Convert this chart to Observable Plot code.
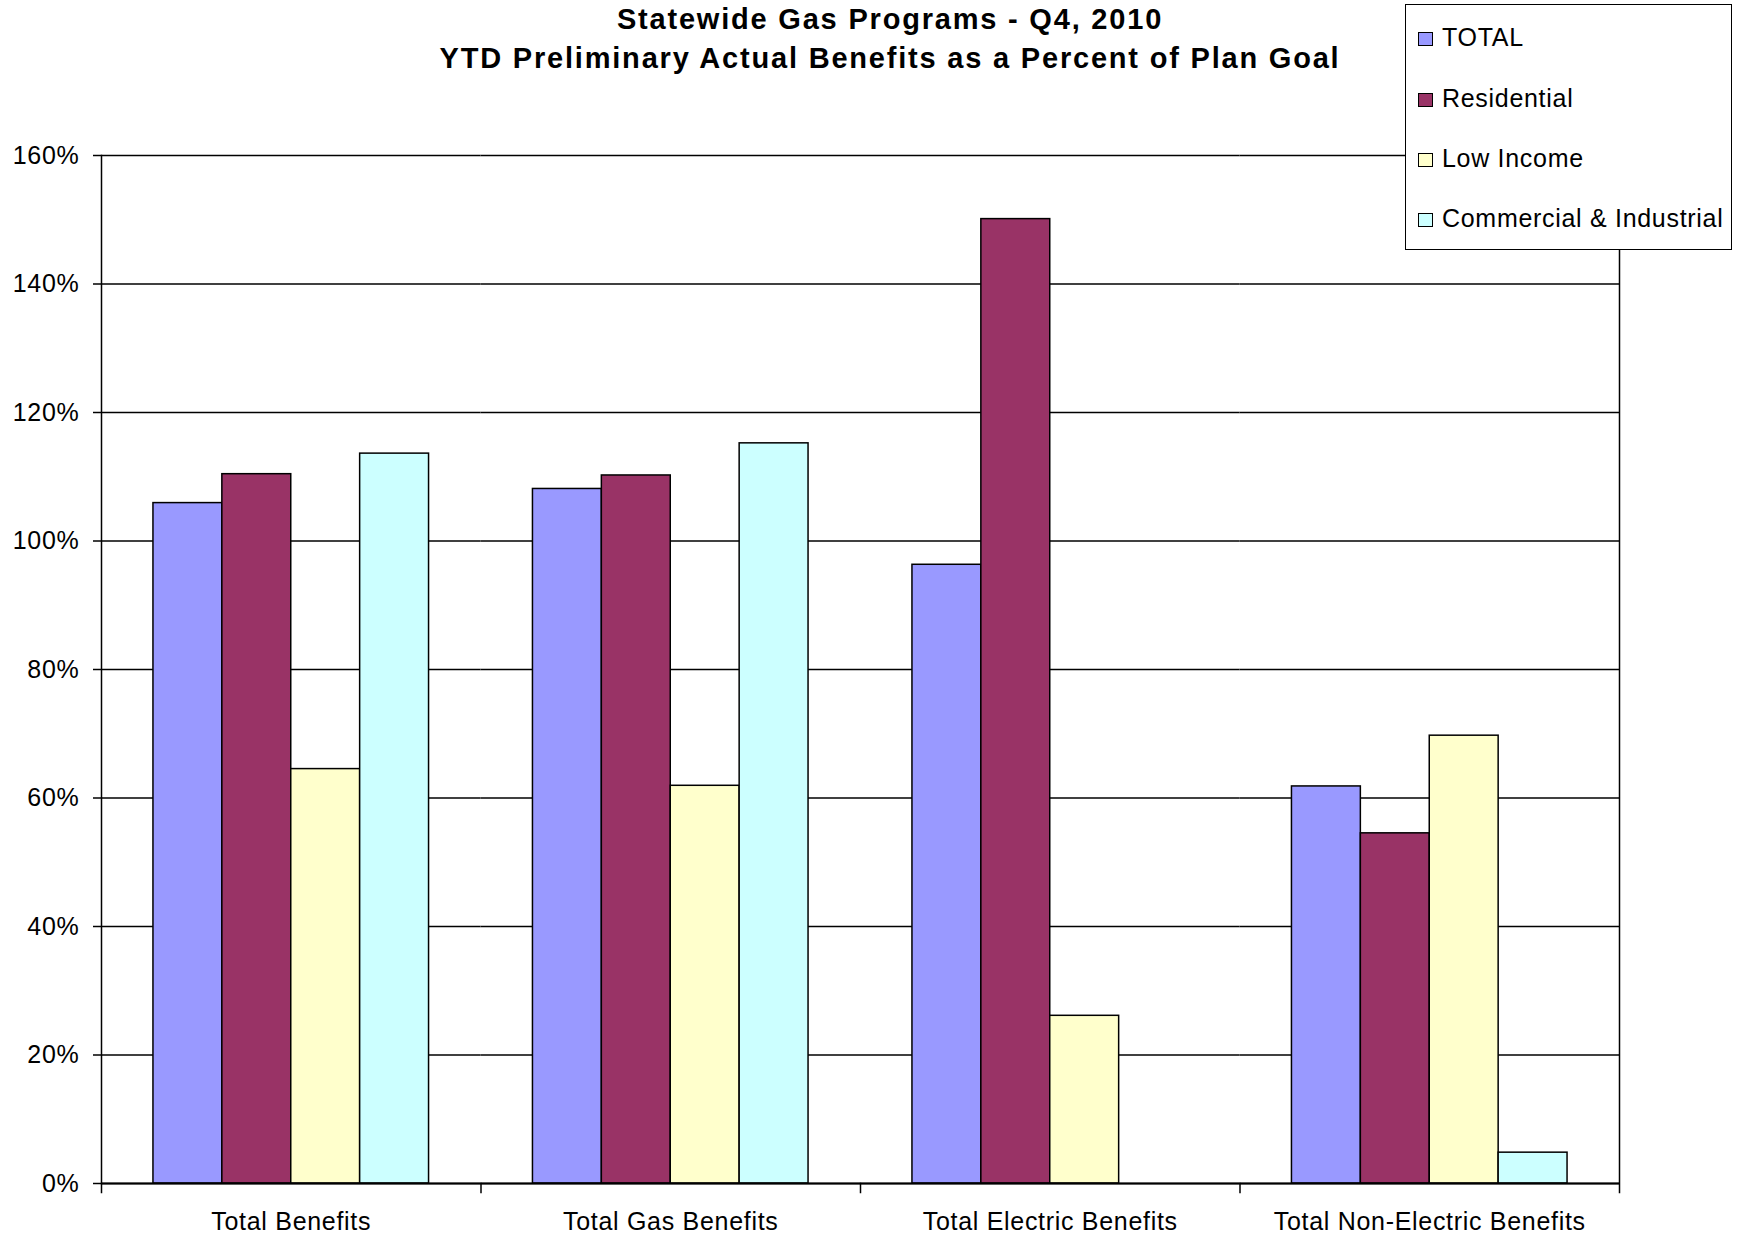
<!DOCTYPE html>
<html>
<head>
<meta charset="utf-8">
<script src="https://cdn.jsdelivr.net/npm/d3@7"></script>
<script src="https://cdn.jsdelivr.net/npm/@observablehq/plot@0.6"></script>
<style>
  html, body { margin: 0; padding: 0; background: #fff; }
  #wrap { position: relative; width: 1742px; height: 1233px; font-family: "Liberation Sans", Arial, sans-serif; color: #000; }
  #wrap svg { position: absolute; left: 0; top: 0; }
  .title { position: absolute; left: 0; width: 1780px; text-align: center; font-weight: bold; font-size: 29px; line-height: 29px; white-space: nowrap; letter-spacing: 1.8px; }
  #legend { position: absolute; left: 1405px; top: 4px; width: 327px; height: 246px; box-sizing: border-box; border: 1.5px solid #000; background: #fff; }
  .item { position: absolute; left: 0; font-size: 25px; line-height: 25px; white-space: nowrap; letter-spacing: 0.7px; }
  .sw { position: absolute; width: 15px; height: 14px; box-sizing: border-box; border: 1.5px solid #000; }
  .lab { position: absolute; left: 36px; }
</style>
</head>
<body>
<div id="wrap"></div>
<script>
const categories = ["Total Benefits", "Total Gas Benefits", "Total Electric Benefits", "Total Non-Electric Benefits"];
const series = ["TOTAL", "Residential", "Low Income", "Commercial & Industrial"];
const totalValues = [105.9, 108.1, 96.3, 61.8];
const residentialValues = [110.4, 110.2, 150.1, 54.5];
const lowIncomeValues = [64.5, 61.9, 26.1, 69.7];
const commercialValues = [113.6, 115.2, null, 4.8];
const colors = ["#9999FF", "#993366", "#FFFFCC", "#CCFFFF"];
const yTicks = [0, 20, 40, 60, 80, 100, 120, 140, 160];
const titleLines = ["Statewide Gas Programs - Q4, 2010", "YTD Preliminary Actual Benefits as a Percent of Plan Goal"];

const seriesValues = [totalValues, residentialValues, lowIncomeValues, commercialValues];
const rows = [];
categories.forEach((c, i) => {
  series.forEach((s, j) => {
    const v = seriesValues[j][i];
    if (v != null) rows.push({category: c, series: s, value: v});
  });
});

const W = 1742, H = 1233;
const mL = 101, mR = 123, mT = 155, mB = 50;
const plotH = H - mT - mB;

const chart = Plot.plot({
  width: W, height: H,
  marginLeft: mL, marginRight: mR, marginTop: mT, marginBottom: mB,
  style: {fontFamily: "'Liberation Sans', Arial, sans-serif", fontSize: "25px", color: "#000", background: "transparent", overflow: "visible", letterSpacing: "0.7px"},
  fx: {domain: categories, padding: 0, label: null, round: false},
  x: {domain: series, paddingInner: 0, paddingOuter: 0.754, axis: null, round: false},
  y: {domain: [0, 160], label: null},
  color: {domain: series, range: colors},
  marks: [
    Plot.gridY(yTicks, {stroke: "#000", strokeOpacity: 1, strokeWidth: 1.5}),
    Plot.barY(rows, {fx: "category", x: "series", y: "value", fill: "series", stroke: "#000", strokeWidth: 1.5}),
    Plot.axisY({ticks: yTicks, tickFormat: d => d + "%", tickSize: 8, tickPadding: 14, stroke: "#000", strokeWidth: 1.5, strokeOpacity: 1, label: null, fontSize: 25}),
    Plot.axisFx({anchor: "bottom", tickSize: 0, tickPadding: 29, label: null, fontSize: 25}),
    Plot.frame({anchor: "left", facetAnchor: "left", stroke: "#000", strokeWidth: 1.5}),
    Plot.frame({anchor: "right", facetAnchor: "right", stroke: "#000", strokeWidth: 1.5, insetBottom: -9}),
    Plot.frame({anchor: "left", stroke: "#000", strokeWidth: 1.5, insetTop: plotH, insetBottom: -9}),
    Plot.ruleY([0], {stroke: "#000", strokeWidth: 2})
  ]
});

const wrap = document.getElementById("wrap");
wrap.appendChild(chart);

const tops = [5, 44];
titleLines.forEach((t, i) => {
  const d = document.createElement("div");
  d.className = "title";
  d.style.top = tops[i] + "px";
  d.textContent = t;
  wrap.appendChild(d);
});

const legend = document.createElement("div");
legend.id = "legend";
const baselines = [41, 102, 162, 222];
series.forEach((s, i) => {
  const item = document.createElement("div");
  item.className = "item";
  item.style.top = (baselines[i] - 21) + "px";
  const sw = document.createElement("div");
  sw.className = "sw";
  sw.style.left = "12px";
  sw.style.top = "7px";
  sw.style.background = colors[i];
  const lab = document.createElement("div");
  lab.className = "lab";
  lab.textContent = s;
  item.appendChild(sw);
  item.appendChild(lab);
  legend.appendChild(item);
});
wrap.appendChild(legend);
</script>
</body>
</html>
